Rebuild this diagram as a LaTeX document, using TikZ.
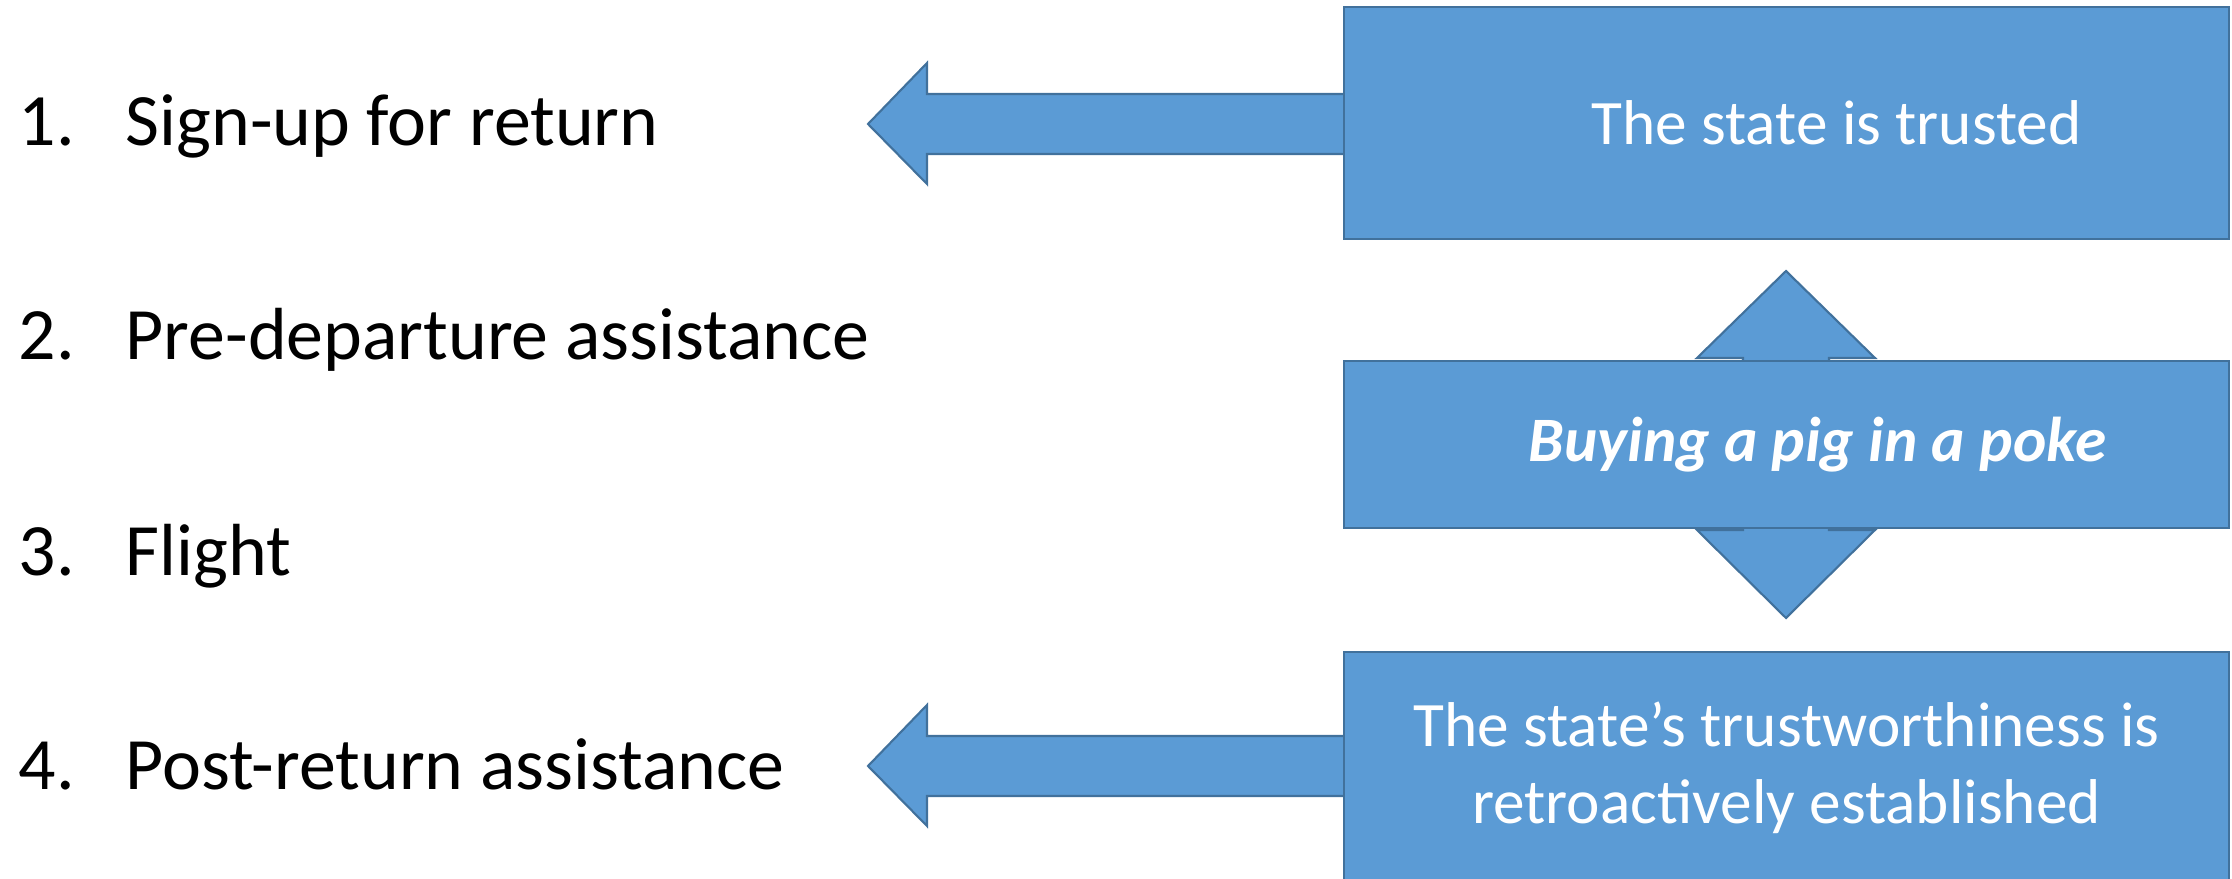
\documentclass[tikz,border=0pt]{standalone}
\usepackage{fontspec}
\setmainfont{Carlito}
\definecolor{boxblue}{HTML}{5B9BD5}
\definecolor{edgeblue}{HTML}{41719C}

\begin{document}
\begin{tikzpicture}[x=0.01cm,y=-0.01cm,
  blockarrow/.style={fill=boxblue,draw=edgeblue,line width=0.6pt,line join=miter}]
   \useasboundingbox (0,0) rectangle (2232,879);
   \clip (0,0) rectangle (2232,879);
   \begin{scope}[every node/.style={anchor=base west,inner sep=0pt,font=\fontsize{21}{25}\selectfont}]
    \node (n1) at (18,146) {1.};
    \node (s1) at (125,146) {Sign-up for return};
    \node (n2) at (18,360) {2.};
    \node (s2) at (125,360) {Pre-departure assistance};
    \node (n3) at (18,575) {3.};
    \node (s3) at (125,575) {Flight};
    \node (n4) at (18,789) {4.};
    \node (s4) at (125,789) {Post-return assistance};
   \end{scope}
   \coordinate (t1) at (868,124);
   \coordinate (t2) at (868,766);
   \coordinate (up) at (1786,271);
   \coordinate (dn) at (1786,618);
   \draw[blockarrow] (t1) -- ++(59,-61) -- ++(0,31) -- ++(500,0) -- ++(0,60) -- ++(-500,0) -- ++(0,30) -- cycle;
   \draw[blockarrow] (t2) -- ++(59,-61) -- ++(0,31) -- ++(500,0) -- ++(0,60) -- ++(-500,0) -- ++(0,30) -- cycle;
   \draw[blockarrow] (up) -- ++(89,87) -- ++(-46,0) -- ++(0,172) -- ++(46,0) -- (dn) -- ++(-89,-88) -- ++(46,0) -- ++(0,-172) -- ++(-46,0) -- cycle;
   \begin{scope}[every node/.style={rectangle,fill=boxblue,draw=edgeblue,line width=0.6pt,text=white,minimum width=8.85cm,align=center,font=\fontsize{18}{22}\selectfont}]
    \node[minimum height=2.32cm] (b1) at (1786.5,123) {\hspace*{10mm}The state is trusted};
    \node[minimum height=1.67cm,font=\fontsize{18}{22}\selectfont\bfseries\itshape] (b2) at (1786.5,444.5) {\hspace*{6.2mm}Buying a pig in a poke};
    \node[minimum height=2.32cm] (b3) at (1786.5,768) {The state’s trustworthiness is\\retroactively established};
   \end{scope}
\end{tikzpicture}
\end{document}
